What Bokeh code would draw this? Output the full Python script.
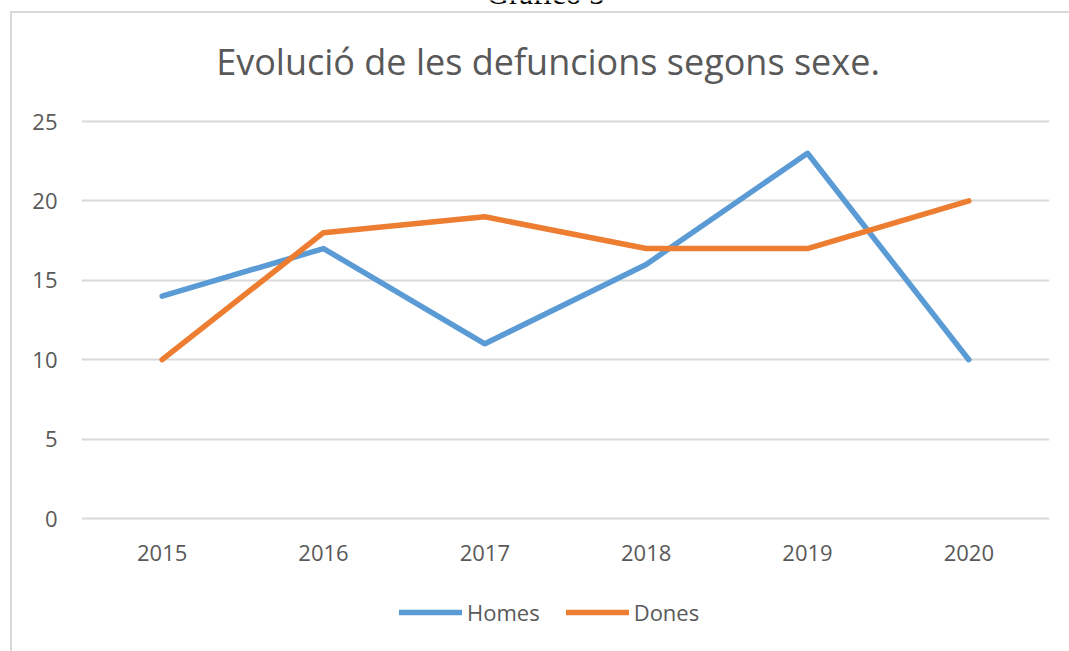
from bokeh.plotting import figure
from bokeh.models import (Range1d, FactorRange, FixedTicker, Label,
                          Legend, LegendItem, ColumnDataSource, InlineStyleSheet)
from bokeh.embed import file_html
from bokeh.resources import INLINE

years = ["2015", "2016", "2017", "2018", "2019", "2020"]
homes = [14, 17, 11, 16, 23, 10]
dones = [10, 18, 19, 17, 17, 20]
y_ticks = [0, 5, 10, 15, 20, 25]

title_text = "Evolució de les defuncions segons sexe."
caption_text = "Gráfico 5"

FONT = "Open Sans"
GRAY = "#595959"
GRID = "#D9D9D9"
BLUE = "#5B9BD5"
ORANGE = "#ED7D31"

# layout (page pixels): value 0 at y=518, value 25 at y=121, frame spans y 0..651
PX_PER_UNIT = (518 - 121) / 25.0
FRAME_H = 651
Y_TOP = 25 + 121 / PX_PER_UNIT
Y_BOT = -(FRAME_H - 518) / PX_PER_UNIT
CAT_W = 968 / len(years)

def page_x(px):   # page x -> synthetic categorical coordinate
    return (px - 81) / CAT_W

def page_y(py):   # page y -> data value
    return 25 + (121 - py) / PX_PER_UNIT

p = figure(x_range=FactorRange(*years, range_padding=0), y_range=Range1d(Y_BOT, Y_TOP),
           frame_width=968, frame_height=FRAME_H,
           min_border_left=81, min_border_right=20, min_border_top=20, min_border_bottom=0,
           output_backend="svg", toolbar_location=None, tools="")
p.styles = {"position": "absolute", "top": "-20px", "left": "0px"}
p.stylesheets = [InlineStyleSheet(css=(
    ":host::before { content: ''; position: absolute; left: 10px; top: 31px; "
    "right: 0px; bottom: 0px; border-left: 2px solid #D9D9D9; "
    "border-top: 2px solid #D9D9D9; z-index: 10; pointer-events: none; }"))]
p.outline_line_color = None
p.background_fill_color = "white"
p.border_fill_color = "white"

src = ColumnDataSource(dict(x=years, homes=homes, dones=dones))
r1 = p.line("x", "homes", source=src, line_color=BLUE, line_width=5.5,
            line_cap="round", line_join="round")
r2 = p.line("x", "dones", source=src, line_color=ORANGE, line_width=5.5,
            line_cap="round", line_join="round")

p.xgrid.grid_line_color = None
p.ygrid.grid_line_color = GRID
p.ygrid.grid_line_width = 2
p.yaxis.ticker = FixedTicker(ticks=y_ticks)
p.xaxis.fixed_location = 0

for ax in (p.xaxis[0], p.yaxis[0]):
    ax.axis_line_color = None
    ax.major_tick_line_color = None
    ax.minor_tick_line_color = None
    ax.major_label_text_font = FONT
    ax.major_label_text_font_size = "22px"
    ax.major_label_text_color = GRAY
p.yaxis.major_label_standoff = 18
p.xaxis.major_label_standoff = 20

p.add_layout(Label(x=page_x(547.5), y=page_y(61), text=title_text,
                   text_font=FONT, text_font_size="36px", text_color=GRAY,
                   text_align="center", text_baseline="alphabetic"))
p.add_layout(Label(x=page_x(545), y=page_y(-7), text=caption_text,
                   text_font="Liberation Serif", text_font_size="31px", text_color="black",
                   text_align="center", text_baseline="alphabetic"))

legend = Legend(items=[LegendItem(label="Homes", renderers=[r1]),
                       LegendItem(label="Dones", renderers=[r2])],
                orientation="horizontal", location=(318, 24),
                glyph_width=63, glyph_height=20, label_standoff=5, spacing=26,
                padding=0, margin=0, border_line_color=None, background_fill_alpha=0,
                label_text_font=FONT, label_text_font_size="22px", label_text_color=GRAY)
p.add_layout(legend, "center")

open("out.html", "w").write(file_html(p, INLINE))
